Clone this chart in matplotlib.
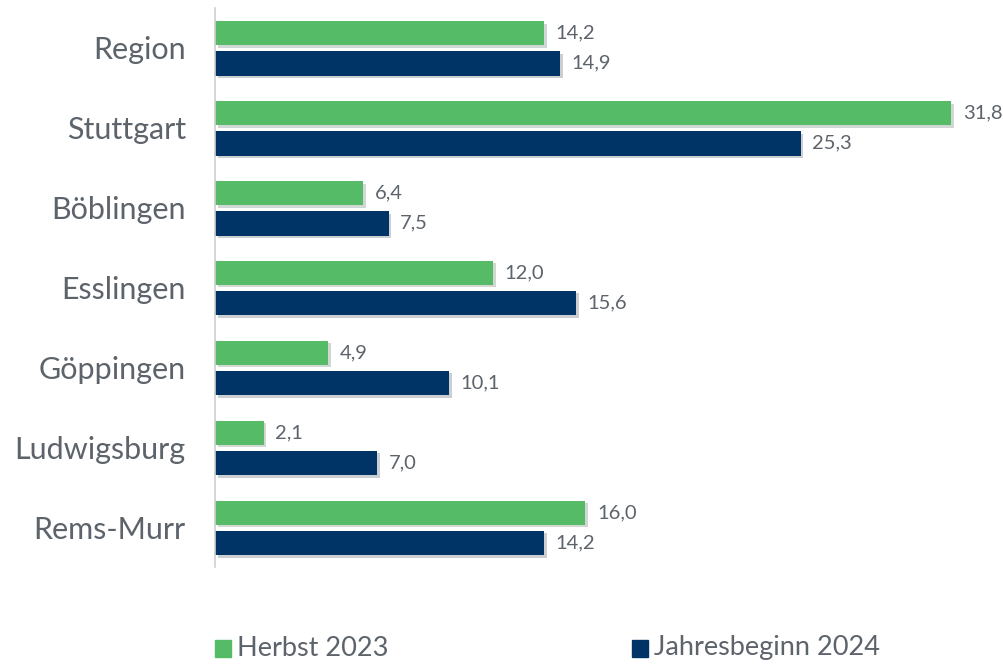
import numpy as np
import matplotlib.pyplot as plt
from matplotlib import patheffects as pe
from matplotlib.patches import Rectangle

regions = ["Region", "Stuttgart", "Böblingen", "Esslingen", "Göppingen", "Ludwigsburg", "Rems-Murr"]
herbst_2023 = [14.2, 31.8, 6.4, 12.0, 4.9, 2.1, 16.0]
beginn_2024 = [14.9, 25.3, 7.5, 15.6, 10.1, 7.0, 14.2]
series_names = ["Herbst 2023", "Jahresbeginn 2024"]

GREEN = "#55BB66"
NAVY = "#003366"
GRAY = "#5d636b"

plt.rcParams['font.family'] = ['Lato', 'DejaVu Sans']

fig = plt.figure(figsize=(10.04, 6.64), dpi=100)
ax = fig.add_axes([215 / 1004, 1 - 567 / 664, 769 / 1004, 559 / 664])

y = np.arange(len(regions))
shadow = [pe.SimplePatchShadow(offset=(2, -2), alpha=0.2), pe.Normal()]
b1 = ax.barh(y - 0.18, herbst_2023, height=0.3, color=GREEN, path_effects=shadow)
b2 = ax.barh(y + 0.2, beginn_2024, height=0.31, color=NAVY, path_effects=shadow)

for bars, vals in [(b1, herbst_2023), (b2, beginn_2024)]:
    for bar, v in zip(bars, vals):
        ax.text(v + 0.5, bar.get_y() + bar.get_height() / 2, f"{v:.1f}".replace(".", ","),
                va="center", ha="left", fontsize=14.5, color=GRAY)

ax.set_xlim(0, 769 / 23.15)
ax.set_ylim(6.5, -0.49)
ax.set_yticks(y)
ax.set_yticklabels(regions, fontsize=22, color=GRAY)
ax.tick_params(axis="y", length=0, pad=21)
ax.set_xticks([])
for s in ["top", "right", "bottom"]:
    ax.spines[s].set_visible(False)
ax.spines["left"].set_color("#d0d0d0")
ax.spines["left"].set_linewidth(1.2)

# legend
for xpos, col, name in [(215, GREEN, series_names[0]), (632, NAVY, series_names[1])]:
    fig.patches.append(Rectangle((xpos / 1004, 1 - 657 / 664), 16 / 1004, 17 / 664,
                                 transform=fig.transFigure, color=col))
    fig.text((xpos + 22) / 1004, 1 - 648 / 664, name, fontsize=19.5, color=GRAY, va="center")

fig.savefig("out.png", dpi=100)
